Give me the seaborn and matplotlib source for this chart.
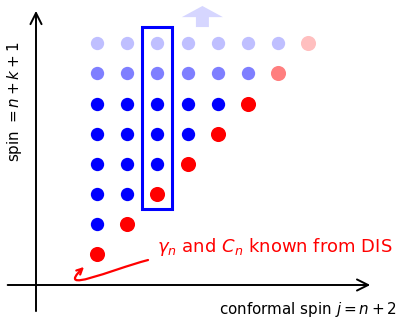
import matplotlib
matplotlib.use("Agg")
import matplotlib.pyplot as plt
from matplotlib.patches import Rectangle, FancyArrow, FancyArrowPatch
from matplotlib.path import Path
import pandas as pd
import seaborn as sns

# grid of operators: row = spin index, columns = conformal spin index
rows = [0, 1, 2, 3, 4, 5, 6, 7]
blue_count = [0, 1, 2, 3, 4, 5, 6, 7]   # blue dots per row, starting at column 0
red_col = [0, 1, 2, 3, 4, 5, 6, 7]      # column of the red dot in each row
row_alpha = [1, 1, 1, 1, 1, 1, 0.5, 0.25]

# highlighted column (box) and the text
box_col = 2
box_rows = (1.5, 7.55)
dis_text = r"$\gamma_n$ and $C_n$ known from DIS"
xlabel = r"conformal spin $j = n+2$"
ylabel = r"spin $= n+k+1$"

sns.set_style("white")
plt.rcParams["font.family"] = ["DejaVu Sans"]
plt.rcParams["mathtext.fontset"] = "dejavusans"
plt.rcParams["text.color"] = "black"

pts = []
for r, nb, rc, a in zip(rows, blue_count, red_col, row_alpha):
    for c in range(nb):
        pts.append({"x": c, "y": r, "kind": "blue", "alpha": a})
    pts.append({"x": rc, "y": r, "kind": "red", "alpha": a})
df = pd.DataFrame(pts)

fig = plt.figure(figsize=(4, 3.2), dpi=100)
ax = fig.add_axes([0, 0, 1, 1])
ax.set_xlim(-3.212, 10.033)
ax.set_ylim(-2.193, 8.439)
ax.axis("off")

for (kind, a), g in df.groupby(["kind", "alpha"]):
    sns.scatterplot(data=g, x="x", y="y", color=(0, 0, 1) if kind == "blue" else (1, 0, 0),
                    alpha=a, s=92 if kind == "blue" else 118, linewidth=0,
                    legend=False, ax=ax, zorder=3)

# box around one column
ax.add_patch(Rectangle((box_col - 0.5, box_rows[0]), 0.98, box_rows[1] - box_rows[0],
                       fill=False, edgecolor=(0, 0, 1), lw=2.2, zorder=4))

# light up-arrow above the box
ax.add_patch(FancyArrow(3.49, 7.54, 0, 0.70, width=0.43, head_width=1.36,
                        head_length=0.37, length_includes_head=True,
                        color=(0.84, 0.84, 1.0), lw=0))

# coordinate axes
ax.annotate("", xy=(-2.02, 8.17), xytext=(-2.02, -1.99),
            arrowprops=dict(arrowstyle="->", lw=1.4, color="black", mutation_scale=20))
ax.annotate("", xy=(9.14, -1.03), xytext=(-3.05, -1.03),
            arrowprops=dict(arrowstyle="->", lw=1.4, color="black", mutation_scale=20))

ax.text(9.93, -1.86, xlabel, ha="right", va="center", fontsize=10.9)
ax.text(-2.72, 5.05, ylabel, ha="center", va="center", rotation=90, fontsize=10.9)

# red note with curved arrow
ax.text(1.99, 0.23, dis_text, ha="left", va="center", fontsize=13, color=(1, 0, 0))
verts = [(1.69, -0.20), (0.43, -0.53), (-1.39, -1.36), (-0.43, -0.43)]
path = Path(verts, [Path.MOVETO, Path.CURVE4, Path.CURVE4, Path.CURVE4])
ax.add_patch(FancyArrowPatch(path=path, arrowstyle="->", color=(1, 0, 0),
                             lw=1.6, mutation_scale=10))

fig.savefig("out.png", dpi=100)
plt.close(fig)
